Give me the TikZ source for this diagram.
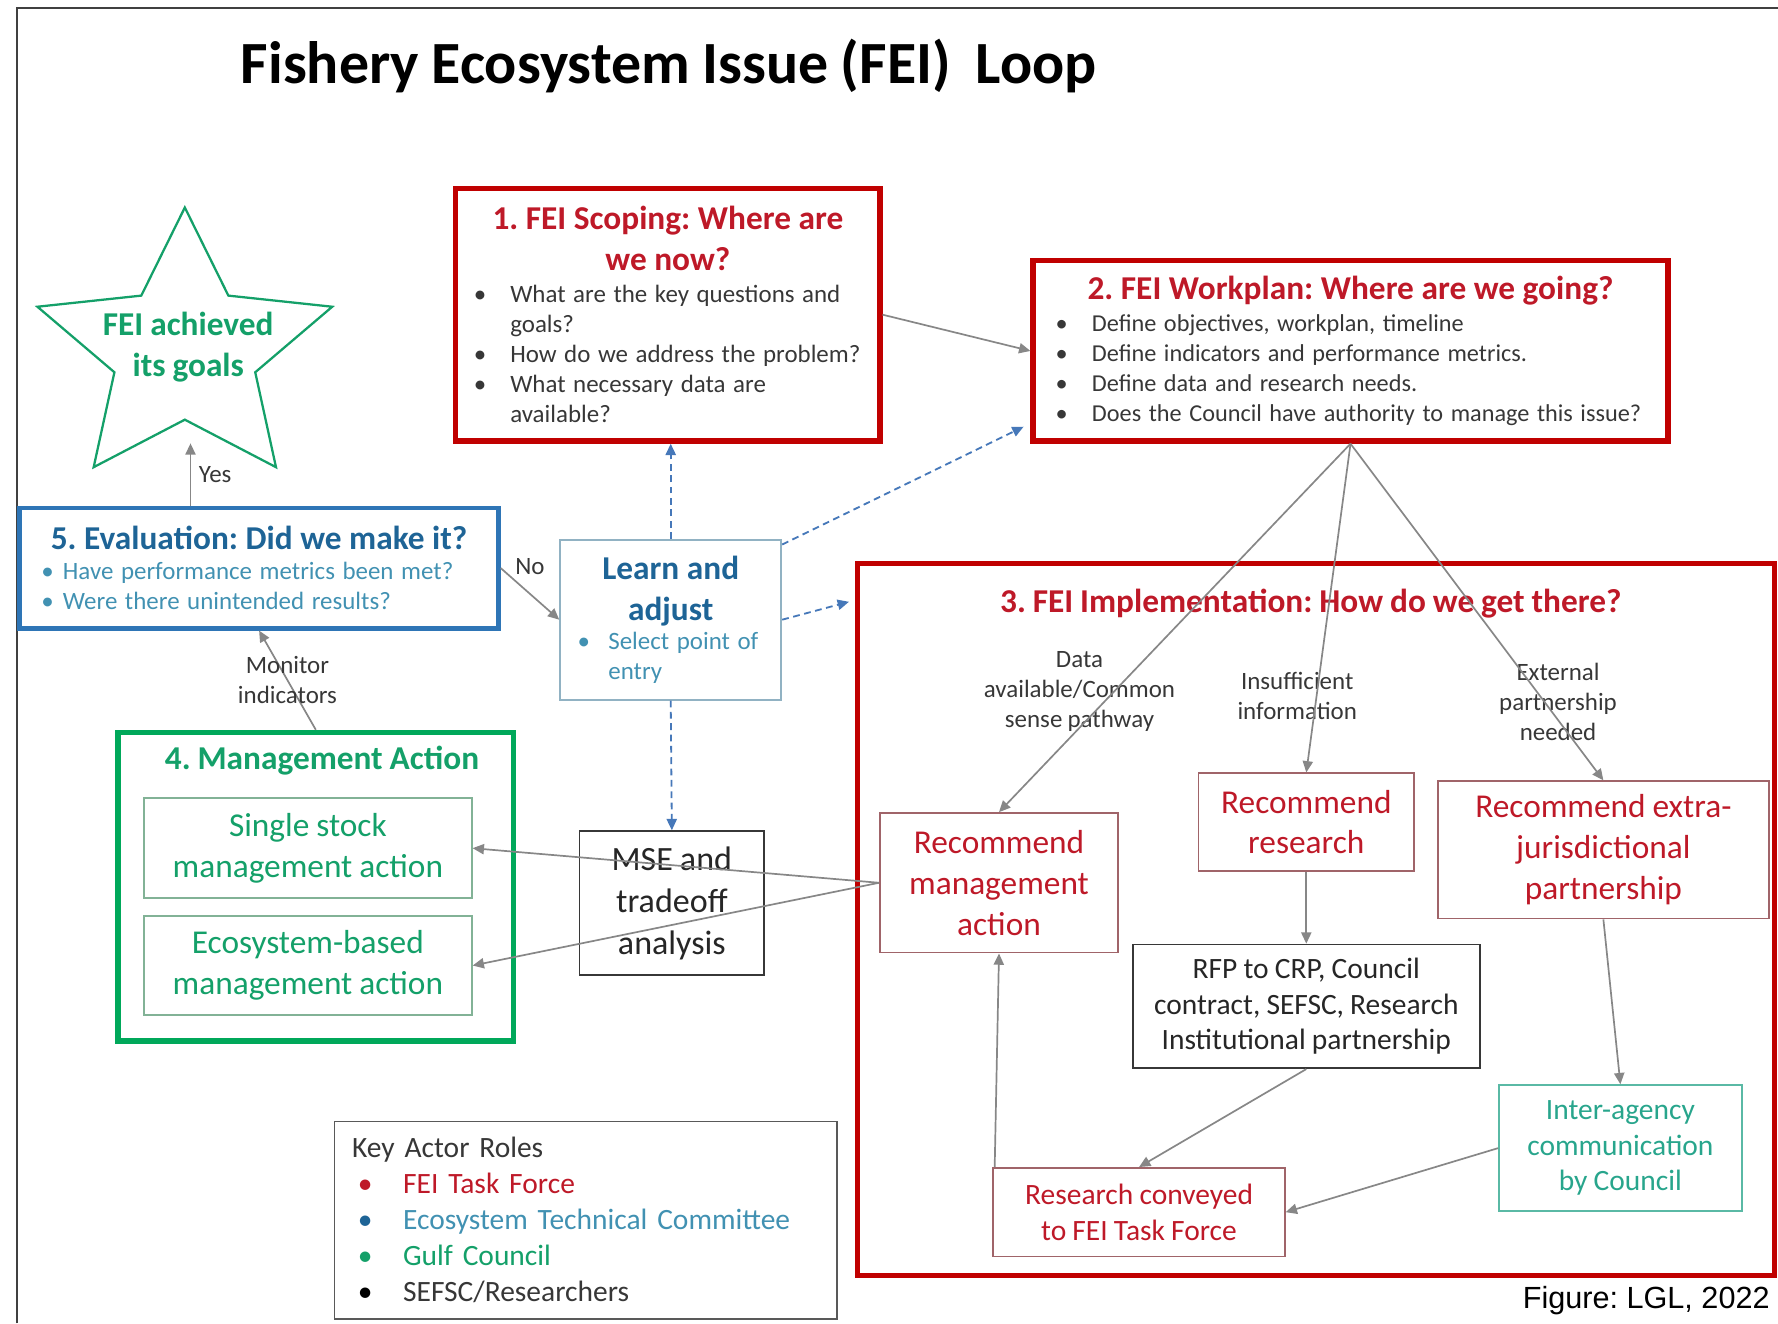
\documentclass[tikz,border=0pt]{standalone}
\usepackage{fontspec}
\setmainfont{Carlito}[WordSpace=0.92]
\newfontfamily\creditfont{Liberation Sans}
\usetikzlibrary{arrows.meta}

\definecolor{fred}{RGB}{192,0,0}
\definecolor{fredtext}{RGB}{190,25,40}
\definecolor{fsubred}{RGB}{160,100,105}
\definecolor{fgray}{RGB}{55,55,55}
\definecolor{fblue}{RGB}{46,117,182}
\definecolor{fbluetext}{RGB}{30,100,150}
\definecolor{fbluelite}{RGB}{65,145,178}
\definecolor{flearnbox}{RGB}{145,178,195}
\definecolor{fgreen}{RGB}{0,168,90}
\definecolor{fgreentext}{RGB}{20,160,105}
\definecolor{fgreenbox}{RGB}{130,178,150}
\definecolor{fteal}{RGB}{90,185,165}
\definecolor{ftealtext}{RGB}{40,165,140}
\definecolor{fline}{RGB}{135,135,135}
\definecolor{fdash}{RGB}{70,120,185}

\newcommand{\boxtitle}{\fontsize{14.7}{18}\selectfont\bfseries}
\newcommand{\bodytext}{\fontsize{11}{13.25}\selectfont}
\newcommand{\bigtext}{\fontsize{14.7}{18}\selectfont}
\newcommand{\midtext}{\fontsize{13}{15.75}\selectfont}
\newcommand{\fitem}[2]{\par\noindent\hangindent=#1\hangafter=1\makebox[#1][l]{\textbullet}#2}

\begin{document}
\frenchspacing
\hyphenpenalty=10000
\exhyphenpenalty=10000
\begin{tikzpicture}[x=0.5pt, y=-0.5pt,
    redframe/.style={draw=fred, line width=2.3pt, inner ysep=4pt},
    subred/.style={draw=fsubred, line width=0.8pt, text=fredtext, align=center},
    plainbox/.style={draw=fgray, line width=0.8pt, text=fgray, align=center},
    flow/.style={draw=fline, line width=0.75pt, -{Triangle[length=5pt,width=4.5pt]}},
    probe/.style={draw=fdash, line width=0.8pt, dash pattern=on 3pt off 2pt, -{Triangle[length=5pt,width=4.5pt]}},
    branch/.style={font=\bodytext, text=fgray, align=center, inner sep=0pt}]
    \useasboundingbox (0,0) rectangle (1568,1167);
    \draw[line width=1pt, draw=black!75] (15,1167) -- (15,7) -- (1568,7);

    \node[anchor=west, inner sep=0pt, font=\fontsize{26.4}{30}\selectfont\bfseries] (title) at (212,58)
        {Fishery Ecosystem Issue (FEI)\ \ Loop};

    % loop boxes
    \node[redframe, minimum width=187pt, minimum height=111.5pt, text width=171pt, align=left, inner xsep=8pt] (scoping) at (589,277.5)
        {{\centering\boxtitle\color{fredtext}1. FEI Scoping: Where are\\we now?\par}\vspace{1pt}
         \bodytext\color{fgray}
         \fitem{16pt}{What are the key questions and\newline goals?}
         \fitem{16pt}{How do we address the problem?}
         \fitem{16pt}{What necessary data are\newline available?}\par};
    \node[redframe, minimum width=280pt, minimum height=79.5pt, text width=260pt, align=left, inner xsep=10pt] (workplan) at (1191,309.5)
        {{\centering\boxtitle\color{fredtext}2. FEI Workplan: Where are we going?\par}\vspace{1pt}
         \fontsize{10.7}{13.25}\selectfont\color{fgray}
         \fitem{16pt}{Define objectives, workplan, timeline}
         \fitem{16pt}{Define indicators and performance metrics.}
         \fitem{16pt}{Define data and research needs.}
         \fitem{16pt}{Does the Council have authority to manage this issue?}\par};
    \node[draw=fblue, line width=2.1pt, minimum width=210.5pt, minimum height=53pt, text width=192pt, align=left, inner xsep=9.5pt] (eval) at (228.5,501)
        {{\centering\boxtitle\color{fbluetext}5. Evaluation: Did we make it?\par}
         \bodytext\color{fbluelite}
         \fitem{9.5pt}{Have performance metrics been met?}
         \fitem{9.5pt}{Were there unintended results?}\par};
    \node[draw=flearnbox, line width=0.8pt, minimum width=97.5pt, minimum height=70.5pt, text width=82pt, align=left, inner xsep=7.5pt] (learn) at (591.5,546.5)
        {{\centering\boxtitle\color{fbluetext}Learn and\\adjust\par}
         \fontsize{11}{13}\selectfont\color{fbluelite}
         \fitem{13.5pt}{Select point of\newline entry}\par};

    % star
    \coordinate (s_1) at (163,183);
    \coordinate (s_2) at (201.4,260.7);
    \coordinate (s_3) at (293,270.5);
    \coordinate (s_4) at (225.1,328.3);
    \coordinate (s_5) at (243.4,412);
    \coordinate (s_6) at (163,370.1);
    \coordinate (s_7) at (82.6,412);
    \coordinate (s_8) at (100.9,328.3);
    \coordinate (s_9) at (33,270.5);
    \coordinate (s_10) at (124.6,260.7);
    \draw[draw=fgreentext, line width=1pt, line join=miter] (s_1) -- (s_2) -- (s_3) -- (s_4) -- (s_5) -- (s_6) -- (s_7) -- (s_8) -- (s_9) -- (s_10) -- cycle;
    \node[align=center, text=fgreentext, font=\boxtitle] (goal) at (166,306) {FEI achieved\\its goals};
    \coordinate (yestip) at (168,391);

    % management action
    \node[draw=fgreen, line width=2.4pt, minimum width=174.5pt, minimum height=136pt] (mgmt) at (278.5,782) {};
    \node[font=\boxtitle, text=fgreentext] (mgmttitle) at (284,671) {4. Management Action};
    \node[draw=fgreenbox, line width=0.8pt, minimum width=144.5pt, minimum height=44pt, align=center, text=fgreentext, font=\bigtext] (single) at (271.5,748)
        {Single stock\\management action};
    \node[draw=fgreenbox, line width=0.8pt, minimum width=144.5pt, minimum height=43.5pt, align=center, text=fgreentext, font=\bigtext] (ecobased) at (271.5,851.5)
        {Ecosystem-based\\management action};
    \node[plainbox, minimum width=81.5pt, minimum height=63.5pt, font=\fontsize{15}{18.5}\selectfont, text=black!85] (mse) at (592.5,796.5)
        {MSE and\\tradeoff\\analysis};

    % implementation
    \node[redframe, minimum width=404.5pt, minimum height=314pt] (impl) at (1160.5,811) {};
    \node[font=\boxtitle, text=fredtext] (impltitle) at (1156,532) {3. FEI Implementation: How do we get there?};
    \node[branch] (lbldata) at (952,610) {Data\\available/Common\\sense pathway};
    \node[branch] (lblinsuf) at (1144,614) {Insufficient\\information};
    \node[branch] (lblext) at (1374,619) {External\\partnership\\needed};
    \node[subred, minimum width=105pt, minimum height=61.5pt, font=\bigtext] (recmgmt) at (881,778.5)
        {Recommend\\management\\action};
    \node[subred, minimum width=95pt, minimum height=43pt, font=\bigtext] (recres) at (1152,725)
        {Recommend\\research};
    \node[subred, minimum width=146pt, minimum height=60.5pt, font=\bigtext] (recextra) at (1414,749.5)
        {Recommend extra-\\jurisdictional\\partnership};
    \node[plainbox, minimum width=153pt, minimum height=54.5pt, font=\midtext, text=black!85] (rfp) at (1152,887.5)
        {RFP to CRP, Council\\contract, SEFSC, Research\\Institutional partnership};
    \node[draw=fteal, line width=0.8pt, minimum width=107pt, minimum height=55.5pt, align=center, text=ftealtext, font=\midtext] (interagency) at (1429,1012.5)
        {Inter-agency\\communication\\by Council};
    \node[subred, minimum width=128.5pt, minimum height=39pt, font=\midtext] (conveyed) at (1004.5,1069)
        {Research conveyed\\to FEI Task Force};

    % legend
    \node[draw=black!65, line width=0.8pt, minimum width=221.5pt, minimum height=87pt, text width=206pt, align=left, inner xsep=7.5pt, font=\fontsize{13}{15.9}\selectfont] (keyroles) at (516.5,1076)
        {\color{fgray}Key Actor Roles\\
         \hspace*{2.5pt}\makebox[20pt][l]{\color{fredtext}\textbullet}{\color{fredtext}FEI Task Force}\\
         \hspace*{2.5pt}\makebox[20pt][l]{\color{fbluetext}\textbullet}{\color{fbluelite}Ecosystem Technical Committee}\\
         \hspace*{2.5pt}\makebox[20pt][l]{\color{fgreentext}\textbullet}{\color{fgreentext}Gulf Council}\\
         \hspace*{2.5pt}\makebox[20pt][l]{\color{black}\textbullet}{\color{fgray}SEFSC/Researchers}};
    \node[anchor=east, inner sep=0pt, font=\creditfont\fontsize{13.5}{16}\selectfont] (credit) at (1561,1147) {Figure: LGL, 2022};

    % connectors
    \draw[flow] (scoping.east) -- (workplan.west);
    \draw[flow] (workplan.south) -- (recmgmt.north);
    \draw[flow] (workplan.south) -- (recres.north);
    \draw[flow] (workplan.south) -- (recextra.north);
    \draw[flow] (recmgmt.west) -- (single.east);
    \draw[flow] (recmgmt.west) -- (ecobased.east);
    \draw[flow] (recres.south) -- (rfp.north);
    \draw[flow] (rfp.south) -- (conveyed.north);
    \draw[flow] (recextra.south) -- (interagency.north);
    \draw[flow] (interagency.west) -- (conveyed.east);
    \draw[flow] ([xshift=1pt]conveyed.north west) -- (recmgmt.south);
    \draw[flow] (eval.east) -- (learn.west) node[midway, yshift=12pt, font=\bodytext, text=fgray] (nolbl) {No};
    \draw[flow] (eval.north -| yestip) -- (yestip) node[midway, right, font=\bodytext, text=fgray] (yeslbl) {Yes};
    \draw[flow] (mgmt.north) -- (eval.south) node[midway, align=center, font=\bodytext, text=fgray] (monlbl) {Monitor\\indicators};
    \draw[probe] (learn.north) -- (learn.north |- scoping.south);
    \draw[probe] ([yshift=-2.5pt]learn.north east) -- ([xshift=-3pt,yshift=7.5pt]workplan.south west);
    \draw[probe] (learn.east) -- ([xshift=-2.5pt,yshift=-18pt]impl.north west);
    \draw[probe] (learn.south) -- (mse.north);
\end{tikzpicture}
\end{document}
